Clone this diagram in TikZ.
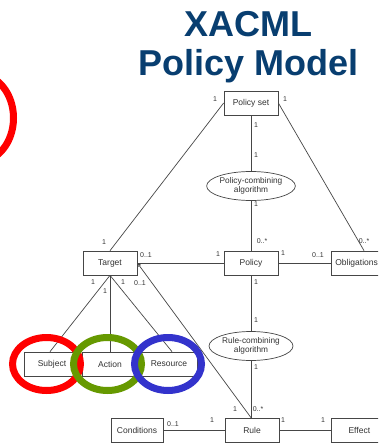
\documentclass[tikz,border=0pt]{standalone}
\usepackage{fontspec}
\setmainfont{Liberation Sans}
\usetikzlibrary{arrows.meta,shapes.geometric}
\definecolor{titleblue}{RGB}{8,62,112}
\definecolor{linegray}{RGB}{70,70,70}
\definecolor{ringred}{RGB}{255,0,0}
\definecolor{ringgreen}{RGB}{102,153,0}
\definecolor{ringblue}{RGB}{51,51,204}
\tikzset{
  cls/.style={draw=linegray, line width=0.7pt, rectangle, minimum width=54pt, minimum height=24pt, inner sep=1pt, font=\fontsize{8.5}{9}\selectfont, text=black!80},
  algo/.style={draw=linegray, line width=0.7pt, ellipse, minimum width=84pt, minimum height=29pt, inner sep=0pt, align=center, font=\fontsize{8.3}{8.5}\selectfont, text=black!80},
  conn/.style={draw=linegray, line width=0.7pt},
  card/.style={font=\fontsize{7}{7}\selectfont, text=black!80, inner sep=0pt},
  ring/.style={line width=7pt},
  ttl/.style={font=\fontsize{36}{36}\selectfont\bfseries, text=titleblue, anchor=base}
}
\begin{document}
\begin{tikzpicture}[x=1pt,y=-1pt]
\useasboundingbox (0,0) rectangle (378,443);
\clip (0,0) rectangle (378,443);
\fill[white] (0,0) rectangle (378,443);
% title
\node[ttl] (t1) at (248.5,37) {XACML};
\node[ttl] (t2) at (248.5,75.5) {Policy Model};
% nodes
\node[cls] (pset) at (251,103) {Policy set};
\node[algo] (pca) at (251,186) {Policy-combining\\algorithm};
\node[cls] (policy) at (251,263) {Policy};
\node[cls, minimum width=0pt, inner xsep=4pt, anchor=west] (obl) at (331,263) {Obligations};
\node[cls] (target) at (110,263) {Target};
\node[algo] (rca) at (251,346) {Rule-combining\\algorithm};
\node[cls, minimum width=56pt] (subject) at (52,364) {Subject};
\node[cls, minimum width=56pt] (action) at (110,364) {Action};
\node[cls, minimum width=56pt] (resource) at (169,364) {Resource};
\node[cls] (rule) at (252,430) {Rule};
\node[cls, minimum width=52pt] (cond) at (137,430) {Conditions};
\node[cls, minimum width=56pt, anchor=west] (effect) at (331,430) {Effect};
% connectors
\draw[conn] (pset.west) -- (target.north);
\draw[conn] (pset.east) -- (obl.north -| 364,0);
\draw[conn] (pset.south) -- (pca.north);
\draw[conn] (pca.south) -- (policy.north);
\draw[conn] (target.east) -- (policy.west);
\draw[conn] (policy.east) -- (obl.west);
\draw[conn] (policy.south) -- (rca.north);
\draw[conn] (rca.south) -- (rule.north -| rca.south);
\draw[conn, -{Straight Barb[length=3pt,width=3pt]}] (rule.north -| rca.south) -- (target.east);
\draw[conn] (target.south) -- (subject.north -| 50,0);
\draw[conn] (target.south) -- (action.north);
\draw[conn] (target.south) -- (resource.north -| 172,0);
\draw[conn] (cond.east) -- (rule.west);
\draw[conn] (rule.east) -- (effect.west);
% cardinalities
\node[card] (c1) at (215,99) {1};
\node[card] (c2) at (285,99) {1};
\node[card] (c3) at (256,125) {1};
\node[card] (c4) at (256,155) {1};
\node[card] (c5) at (256,204) {1};
\node[card] (c6) at (262,241) {0..*};
\node[card] (c7) at (364,241) {0..*};
\node[card] (c8) at (104,242) {1};
\node[card] (c9) at (146,255) {0..1};
\node[card] (c10) at (218,254) {1};
\node[card] (c11) at (283,253) {1};
\node[card] (c12) at (318,255) {0..1};
\node[card] (c13) at (256,282) {1};
\node[card] (c14) at (256,320) {1};
\node[card] (c15) at (93,282) {1};
\node[card] (c16) at (105,291) {1};
\node[card] (c17) at (123,282) {1};
\node[card] (c18) at (140,283) {0..1};
\node[card] (c19) at (256,367) {1};
\node[card] (c20) at (235,409) {1};
\node[card] (c21) at (258,409) {0..*};
\node[card] (c22) at (173,424) {0..1};
\node[card] (c23) at (212,420) {1};
\node[card] (c24) at (283,420) {1};
\node[card] (c25) at (323,420) {1};
% rings
\draw[ring, ringred] (-22,118) ellipse [x radius=35.5, y radius=44];
\draw[ring, ringred] (46.5,364) ellipse [x radius=34, y radius=26.5];
\draw[ring, ringgreen] (107.5,364) ellipse [x radius=34, y radius=26.5];
\draw[ring, ringblue] (168,364) ellipse [x radius=33.5, y radius=26.5];
\end{tikzpicture}
\end{document}
